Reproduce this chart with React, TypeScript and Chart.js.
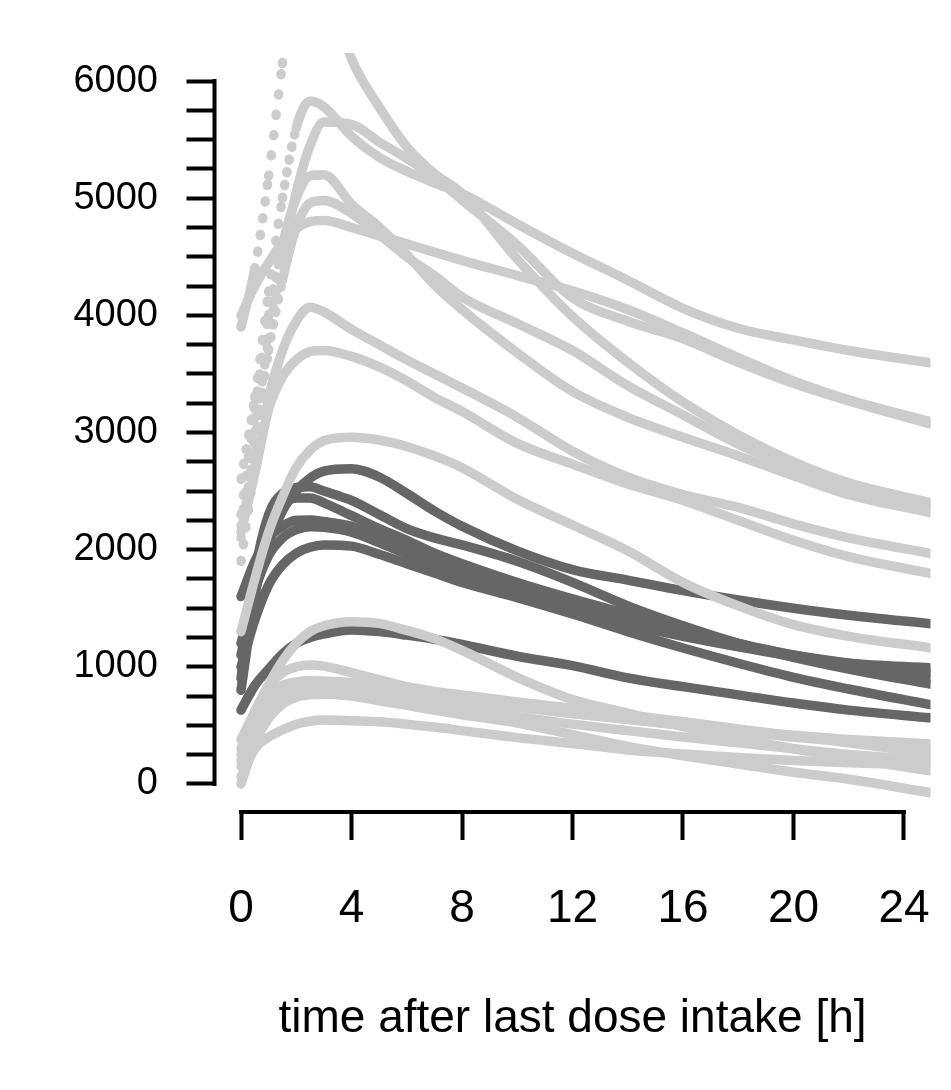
import React, { useEffect, useRef } from "react";
import { Chart, registerables } from "chart.js";

Chart.register(...registerables);

const TIMES = [0, 0.5, 1, 1.5, 2, 2.5, 3, 4, 5, 6, 7, 8, 10, 12, 14, 16, 18, 20, 22, 25];

const X_TICKS = [0, 4, 8, 12, 16, 20, 24];
const Y_TICKS = [0, 250, 500, 750, 1000, 1250, 1500, 1750, 2000, 2250, 2500, 2750, 3000, 3250, 3500, 3750, 4000, 4250, 4500, 4750, 5000, 5250, 5500, 5750, 6000];
const Y_LABELS = [0, 1000, 2000, 3000, 4000, 5000, 6000];
const X_TITLE = "time after last dose intake [h]";

// light grey profiles (upper group)
const L_S1 = [3900, 4400, 5190, 6150, 6900, 7100, 6900, 6190, 5780, 5440, 5210, 5040, 4480, 3990, 3600, 3260, 2980, 2750, 2570, 2400];
const L_P2 = [2600, 3300, 4200, 5000, 5600, 5830, 5780, 5530, 5350, 5230, 5130, 5040, 4780, 4530, 4300, 4060, 3890, 3790, 3700, 3593];
const L_P3 = [2200, 3000, 3800, 4500, 5050, 5450, 5650, 5630, 5480, 5340, 5180, 4985, 4600, 4150, 3950, 3800, 3600, 3420, 3270, 3070];
const L_P6 = [4000, 4250, 4450, 4620, 4740, 4800, 4810, 4750, 4680, 4610, 4540, 4470, 4340, 4210, 4050, 3850, 3640, 3440, 3280, 3090];
const L_P4 = [2300, 3200, 4000, 4600, 5000, 5190, 5200, 4950, 4754, 4520, 4260, 4050, 3680, 3350, 3130, 2960, 2800, 2630, 2470, 2313];
const L_P5 = [2100, 2900, 3700, 4300, 4750, 4960, 4980, 4870, 4690, 4500, 4340, 4157, 3930, 3700, 3400, 3150, 2900, 2700, 2540, 2380];
const L_P7 = [1900, 2700, 3300, 3700, 3950, 4070, 4030, 3880, 3750, 3620, 3500, 3380, 3130, 2840, 2620, 2470, 2360, 2220, 2100, 1965];
const L_P8 = [2150, 2650, 3200, 3476, 3620, 3690, 3700, 3650, 3560, 3440, 3300, 3180, 2907, 2730, 2560, 2420, 2250, 2080, 1940, 1795];
const L_P9 = [1300, 1750, 2150, 2450, 2700, 2850, 2930, 2960, 2936, 2880, 2800, 2700, 2430, 2210, 1990, 1720, 1520, 1360, 1260, 1160];
// light grey profiles (lower group)
const L_B1 = [380, 620, 850, 1050, 1200, 1300, 1350, 1385, 1370, 1310, 1240, 1140, 910, 720, 605, 490, 390, 300, 220, 110];
const L_B2 = [300, 620, 830, 950, 1000, 1016, 1005, 950, 890, 830, 790, 760, 700, 645, 590, 530, 470, 410, 350, 260];
const L_B3 = [250, 560, 760, 840, 870, 880, 878, 865, 830, 790, 750, 715, 660, 600, 555, 500, 450, 400, 360, 300];
const L_B4 = [200, 500, 700, 780, 810, 820, 815, 800, 780, 755, 730, 705, 655, 600, 550, 500, 455, 415, 380, 340];
const L_B5 = [150, 430, 620, 710, 750, 770, 770, 750, 710, 670, 630, 590, 520, 420, 320, 240, 170, 100, 40, -77];
const L_B6 = [60, 300, 400, 460, 510, 535, 545, 540, 530, 510, 485, 455, 395, 345, 290, 255, 225, 200, 180, 160];
const L_B7 = [0, 350, 560, 680, 740, 760, 765, 755, 735, 705, 675, 640, 575, 510, 455, 400, 350, 300, 250, 200];

// dark grey profiles
const D_1 = [1100, 1650, 2050, 2330, 2500, 2610, 2670, 2690, 2620, 2480, 2330, 2200, 1990, 1830, 1740, 1650, 1570, 1500, 1440, 1367];
const D_2 = [900, 1800, 2300, 2480, 2530, 2537, 2500, 2420, 2300, 2180, 2100, 2040, 1900, 1720, 1520, 1350, 1200, 1080, 980, 850];
const D_3 = [800, 1600, 2150, 2380, 2440, 2441, 2400, 2290, 2180, 2080, 1970, 1880, 1720, 1580, 1450, 1320, 1200, 1100, 1010, 900];
const D_4 = [1600, 1900, 2100, 2200, 2250, 2253, 2240, 2200, 2100, 2000, 1900, 1800, 1650, 1520, 1400, 1290, 1190, 1100, 1030, 950];
const D_5 = [1200, 1650, 1950, 2100, 2170, 2196, 2190, 2150, 2060, 1960, 1860, 1760, 1600, 1470, 1360, 1260, 1170, 1090, 1030, 990];
const D_6 = [1000, 1400, 1700, 1870, 1970, 2020, 2040, 2030, 1960, 1880, 1800, 1720, 1590, 1450, 1300, 1160, 1030, 910, 810, 674];
const D_7 = [630, 840, 980, 1110, 1200, 1250, 1280, 1314, 1300, 1270, 1235, 1190, 1090, 1010, 905, 830, 760, 690, 630, 563];

const LIGHT_SERIES = [L_S1, L_P2, L_P3, L_P6, L_P4, L_P5, L_P7, L_P8, L_P9, L_B1, L_B2, L_B3, L_B4, L_B5, L_B6, L_B7];
const DARK_SERIES = [D_1, D_2, D_3, D_4, D_5, D_6, D_7];

const LIGHT = "#cccccc";
const DARK = "#666666";
const FONT = "'Liberation Sans', Arial, Helvetica, sans-serif";
const LINE_W = 9.5;
const SAMPLE_STEP = 0.09; // h between the plotted points in the original figure

function dottedWhenSteep(ctx: any) {
  const dt = ctx.p1.parsed.x - ctx.p0.parsed.x;
  const len = Math.hypot(ctx.p1.x - ctx.p0.x, ctx.p1.y - ctx.p0.y);
  const gap = len / (dt / SAMPLE_STEP);
  return gap > 12 ? [1, gap - 1] : undefined;
}

const rAxes = {
  id: "rAxes",
  afterDraw(chart: any) {
    const { ctx, chartArea, scales } = chart;
    const x = scales.x;
    const y = scales.y;
    ctx.save();
    ctx.strokeStyle = "#000";
    ctx.lineWidth = 4;
    ctx.lineCap = "square";
    ctx.beginPath();
    ctx.moveTo(chartArea.left, y.getPixelForValue(Y_LABELS[0]));
    ctx.lineTo(chartArea.left, y.getPixelForValue(Y_LABELS[Y_LABELS.length - 1]));
    ctx.moveTo(x.getPixelForValue(X_TICKS[0]), chartArea.bottom);
    ctx.lineTo(x.getPixelForValue(X_TICKS[X_TICKS.length - 1]), chartArea.bottom);
    ctx.stroke();
    ctx.restore();
  },
};

function makeDataset(values: number[], color: string, dotted: boolean) {
  return {
    data: values.map((v, i) => ({ x: TIMES[i], y: v })),
    borderColor: color,
    backgroundColor: color,
    borderWidth: LINE_W,
    pointRadius: 0,
    pointHoverRadius: 0,
    fill: false,
    tension: 0.4,
    cubicInterpolationMode: "monotone",
    borderCapStyle: "round",
    borderJoinStyle: "round",
    capBezierPoints: false,
    clip: 0,
    segment: dotted ? { borderDash: dottedWhenSteep } : undefined,
  };
}

export default function App() {
  const ref = useRef<HTMLCanvasElement | null>(null);

  useEffect(() => {
    if (!ref.current) return;
    const datasets = [
      ...LIGHT_SERIES.map((s) => makeDataset(s, LIGHT, true)),
      ...DARK_SERIES.map((s) => makeDataset(s, DARK, false)),
    ];
    const chart = new Chart(ref.current, {
      type: "line",
      data: { datasets: datasets as any },
      plugins: [rAxes],
      options: {
        responsive: false,
        animation: false,
        events: [],
        layout: { padding: { left: 0, right: 20.5, top: 53, bottom: 0 } },
        plugins: { legend: { display: false }, tooltip: { enabled: false } },
        scales: {
          x: {
            type: "linear",
            min: -0.96,
            max: 24.96,
            afterBuildTicks: (s: any) => {
              s.ticks = X_TICKS.map((v) => ({ value: v }));
            },
            afterFit: (s: any) => {
              s.height = 278;
              s.paddingLeft = 0;
              s.paddingRight = 0;
            },
            border: { display: false },
            grid: {
              drawOnChartArea: false,
              drawTicks: true,
              tickLength: 28,
              tickWidth: 4,
              tickColor: "#000",
            },
            ticks: {
              autoSkip: false,
              maxRotation: 0,
              minRotation: 0,
              padding: 42,
              color: "#000",
              font: { family: FONT, size: 46 },
              callback: (v: any) => String(v),
            },
            title: {
              display: true,
              text: X_TITLE,
              color: "#000",
              font: { family: FONT, size: 46 },
              padding: { top: 0, bottom: 43 },
            },
          },
          y: {
            type: "linear",
            min: -240,
            max: 6240,
            afterBuildTicks: (s: any) => {
              s.ticks = Y_TICKS.map((v) => ({ value: v }));
            },
            afterFit: (s: any) => {
              s.width = 214.5;
              s.paddingTop = 0;
              s.paddingBottom = 0;
            },
            border: { display: false },
            grid: {
              drawOnChartArea: false,
              drawTicks: true,
              tickLength: 28,
              tickWidth: 4,
              tickColor: "#000",
            },
            ticks: {
              autoSkip: false,
              padding: 28.5,
              color: "#000",
              font: { family: FONT, size: 38 },
              callback: (v: any) => (Y_LABELS.includes(Number(v)) ? String(v) : ""),
            },
          },
        },
      } as any,
    });
    return () => chart.destroy();
  }, []);

  return (
    <div style={{ position: "absolute", left: 0, top: 0, width: 951, height: 1090, background: "#fff" }}>
      <canvas ref={ref} width={951} height={1090} style={{ width: 951, height: 1090, display: "block" }} />
    </div>
  );
}
